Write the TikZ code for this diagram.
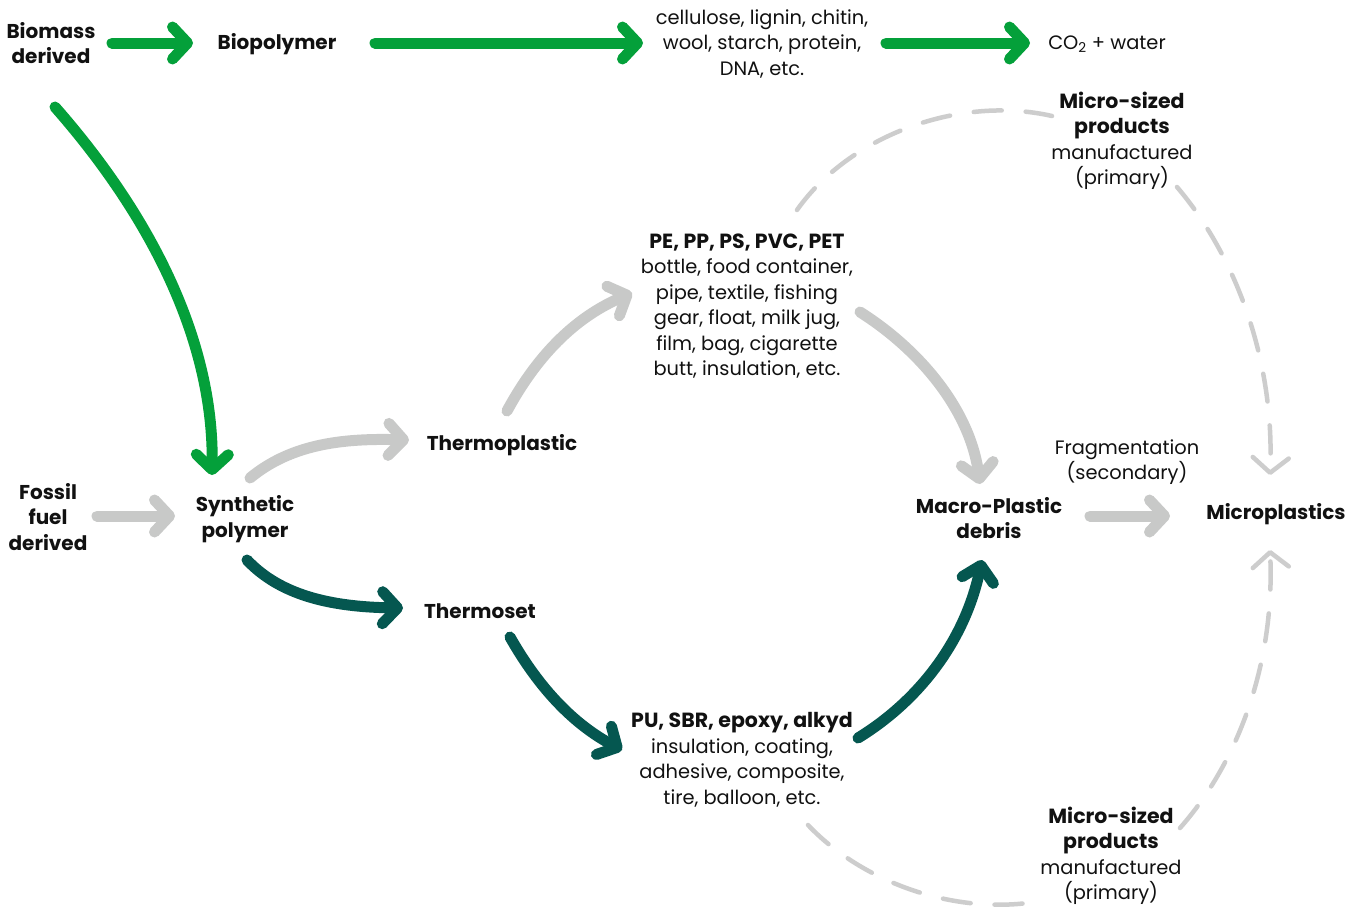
\documentclass[tikz,border=0pt]{standalone}
\usepackage{fontspec}
\setmainfont{Poppins}
\usetikzlibrary{arrows.meta,calc}

\definecolor{leaf}{RGB}{4,160,58}
\definecolor{ash}{RGB}{200,201,200}
\definecolor{pine}{RGB}{5,87,80}
\definecolor{dashgray}{RGB}{205,205,205}
\definecolor{ink}{RGB}{17,17,17}

\newcommand{\headline}[1]{{\fontsize{20.5}{25.5}\selectfont\bfseries #1}}

\tikzset{
  lbl/.style={inner sep=0pt, align=center, text=ink,
    font=\fontsize{20}{25.5}\selectfont\bfseries},
  note/.style={inner sep=0pt, align=center, text=ink,
    font=\fontsize{19.4}{25.5}\selectfont},
  flow/.style={line width=11pt, line cap=round, line join=round,
    -{Straight Barb[length=15pt,width=32pt,round]}},
  flowgreen/.style={flow, draw=leaf},
  flowgray/.style={flow, draw=ash},
  flowteal/.style={flow, draw=pine},
  dashflow/.style={draw=dashgray, line width=4.5pt, line cap=round,
    dash pattern=on 28pt off 24pt},
  dashtip/.style={dashflow, -{Straight Barb[length=15pt,width=36pt,round]}},
}

\begin{document}
\begin{tikzpicture}[x=1pt,y=-1pt]
\path[use as bounding box, fill=white] (0,0) rectangle (1363,908);

% ---- labels ----
\node[lbl] (bm) at (51,43) {Biomass\\derived};
\node[lbl] (bp) at (277,44) {Biopolymer};
\node[note] (bio) at (762,44) {cellulose, lignin, chitin,\\wool, starch, protein,\\DNA, etc.};
\node[note] (co2) at (1107,44) {CO\textsubscript{2} + water};
\node[lbl] (ff) at (48,517) {Fossil\\fuel\\derived};
\node[lbl] (sp) at (245,519) {Synthetic\\polymer};
\node[lbl] (tp) at (502,445) {Thermoplastic};
\node[lbl] (ts) at (480,611) {Thermoset};
\node[note] (pe) at (747,306) {\headline{PE, PP, PS, PVC, PET}\\bottle, food container,\\pipe, textile, fishing\\gear, float, milk jug,\\film, bag, cigarette\\butt, insulation, etc.};
\node[note] (pu) at (742,760) {\headline{PU, SBR, epoxy, alkyd}\\insulation, coating,\\adhesive, composite,\\tire, balloon, etc.};
\node[lbl] (mp) at (989,518) {Macro-Plastic\\debris};
\node[note] (frag) at (1127,462) {Fragmentation\\(secondary)};
\node[lbl] (mi) at (1276,514) {Microplastics};
\node[note] (mst) at (1122,141) {\headline{Micro-sized}\\\headline{products}\\manufactured\\(primary)};
\node[note] (msb) at (1111,856) {\headline{Micro-sized}\\\headline{products}\\manufactured\\(primary)};

% ---- bio-based route ----
\draw[flowgreen] ($(bm)+(61,0)$) -- ($(bp)+(-84,-1)$);
\draw[flowgreen] ($(bp)+(98,-1)$) -- ($(bio)+(-119,-1)$);
\draw[flowgreen] ($(bio)+(124,-1)$) -- ($(co2)+(-77,-1)$);
\draw[flowgreen] ($(bm)+(4,64)$) .. controls ($(bm)+(99,172)$) and ($(sp)+(-31,-179)$) .. ($(sp)+(-33,-44)$);

% ---- fossil route ----
\draw[flowgray] ($(ff)+(49,-1)$) -- ($(sp)+(-70,-3)$);
\draw[flowgray] ($(sp)+(5,-41)$) .. controls ($(sp)+(45,-74)$) and ($(tp)+(-162,-7)$) .. ($(tp)+(-93,-5)$);
\draw[flowteal] ($(sp)+(2,41)$) .. controls ($(sp)+(35,76)$) and ($(ts)+(-150,-4)$) .. ($(ts)+(-77,-3)$);
\draw[flowgray] ($(tp)+(5,-34)$) .. controls ($(tp)+(38,-95)$) and ($(pe)+(-167,9)$) .. ($(pe)+(-115,-13)$);
\draw[flowgray] ($(pe)+(113,6)$) .. controls ($(pe)+(173,44)$) and ($(mp)+(-19,-108)$) .. ($(mp)+(-9,-34)$);
\draw[flowteal] ($(ts)+(30,26)$) .. controls ($(ts)+(60,79)$) and ($(pu)+(-167,-35)$) .. ($(pu)+(-120,-10)$);
\draw[flowteal] ($(pu)+(116,-22)$) .. controls ($(pu)+(178,-60)$) and ($(mp)+(-24,122)$) .. ($(mp)+(-7,42)$);
\draw[flowgray] ($(mp)+(101,-2)$) -- ($(mi)+(-106,2)$);

% ---- primary micro-sized products ----
\draw[dashflow] ($(pe)+(50,-96)$) .. controls ($(mst)+(-272,-6)$) and ($(mst)+(-162,-46)$) .. ($(mst)+(-70,-25)$);
\draw[dashtip] ($(mst)+(55,46)$) .. controls ($(mst)+(113,114)$) and ($(mi)+(-1,-154)$) .. ($(mi)+(-6,-39)$);
\draw[dashtip] ($(msb)+(69,-28)$) .. controls ($(msb)+(129,-96)$) and ($(mi)+(-1,146)$) .. ($(mi)+(-6,36)$);
\draw[dashflow] ($(pu)+(66,65)$) .. controls ($(pu)+(118,120)$) and ($(msb)+(-161,59)$) .. ($(msb)+(-76,46)$);
\end{tikzpicture}
\end{document}
